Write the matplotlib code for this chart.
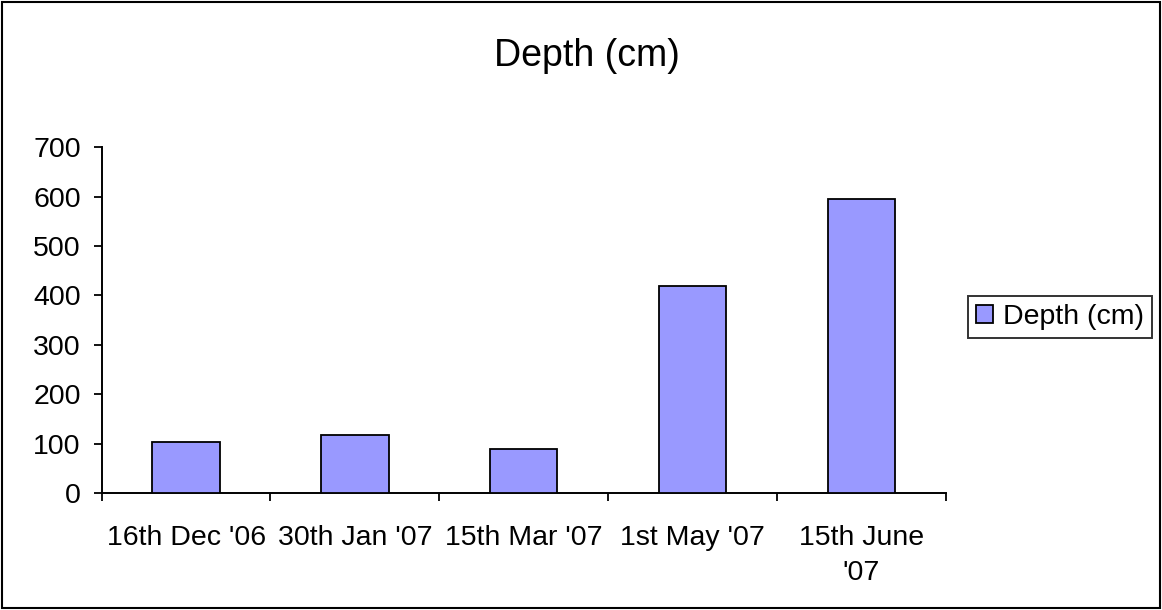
import numpy as np
import matplotlib
matplotlib.use("Agg")
from matplotlib import pyplot as plt
from matplotlib.patches import Rectangle

# ----------- data -----------
dates = ["16th Dec '06", "30th Jan '07", "15th Mar '07", "1st May '07", "15th June\n'07"]
depth = [104, 117, 89, 420, 595]
series_name = "Depth (cm)"
yticks = [0, 100, 200, 300, 400, 500, 600, 700]
# -------- end of data -------

plt.rcParams["font.family"] = ["Liberation Sans", "DejaVu Sans"]

fig = plt.figure(figsize=(11.62, 6.10), dpi=100)
ax = fig.add_axes([0.0875, 0.1918, 0.7264, 0.5667])

x = np.arange(len(dates))
ax.bar(x, depth, width=0.40, color="#9999ff", edgecolor="black", linewidth=1.3,
       label=series_name, zorder=3)

ax.set_xlim(-0.5, len(dates) - 0.5)
ax.set_ylim(0, 700)
ax.set_yticks(yticks)
ax.tick_params(axis="y", labelsize=20.5, length=6, width=1.3, direction="out", pad=9)

# labels at category centres, tick marks on the boundaries
ax.set_xticks(x)
ax.set_xticklabels(dates, fontsize=20.5, linespacing=1.45)
ax.tick_params(axis="x", which="major", length=0, pad=23)
ax.set_xticks(np.arange(len(dates) + 1) - 0.5, minor=True)
ax.tick_params(axis="x", which="minor", length=6, width=1.3, direction="out")

for side in ["top", "right"]:
    ax.spines[side].set_visible(False)
for side in ["left", "bottom"]:
    ax.spines[side].set_linewidth(1.4)

fig.text(0.5047, 0.892, series_name, ha="center", va="baseline", fontsize=27)

leg = ax.legend(loc="center left", bbox_to_anchor=(0.833, 0.48),
                bbox_transform=fig.transFigure, fontsize=20.5, frameon=True,
                fancybox=False, handlelength=0.6, handleheight=0.6,
                handletextpad=0.36, borderpad=0.28, borderaxespad=0)
leg.get_frame().set_edgecolor("black")
leg.get_frame().set_linewidth(1.4)

# outer border of the chart area
fig.patches.append(Rectangle((0.002, 0.003), 0.996, 0.994, transform=fig.transFigure,
                             fill=False, edgecolor="black", linewidth=1.5))

fig.savefig("out.png", dpi=100)
